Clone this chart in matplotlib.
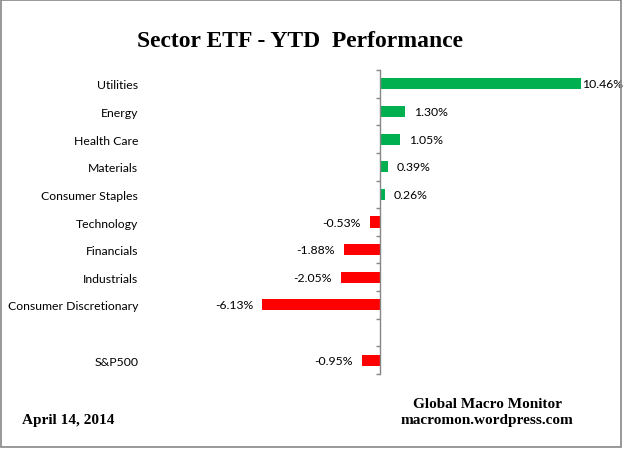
import matplotlib.pyplot as plt
from matplotlib.patches import Rectangle

sectors = ["Utilities", "Energy", "Health Care", "Materials", "Consumer Staples",
           "Technology", "Financials", "Industrials", "Consumer Discretionary", "", "S&P500"]
ytd = [10.46, 1.30, 1.05, 0.39, 0.26, -0.53, -1.88, -2.05, -6.13, None, -0.95]

green = "#00B050"
red = "#FF0000"
grey = "#868686"

fig = plt.figure(figsize=(6.26, 4.56), dpi=100)
ax = fig.add_axes([0.4077, 0.1776, 0.5674, 0.6667])

pos = [i for i, v in enumerate(ytd) if v is not None]
vals = [v for v in ytd if v is not None]
cols = [green if v >= 0 else red for v in vals]
ax.barh(pos, vals, height=0.4, color=cols)

ax.set_xlim(-6.5, 12)
ax.set_ylim(len(sectors) - 0.5, -0.5)

# value labels, outside end of each bar
for p, v in zip(pos, vals):
    if v == max(vals):
        ax.annotate(f"{v:.2f}%", (v, p), xytext=(1, 0), textcoords="offset points",
                    va="center", ha="left", fontsize=8.8, family="Lato")
    elif v >= 0:
        ax.annotate(f"{v:.2f}%", (v, p), xytext=(6.5, 0), textcoords="offset points",
                    va="center", ha="left", fontsize=8.8, family="Lato")
    else:
        ax.annotate(f"{v:.2f}%", (v, p), xytext=(-6.5, 0), textcoords="offset points",
                    va="center", ha="right", fontsize=8.8, family="Lato")

for s in ["top", "right", "bottom"]:
    ax.spines[s].set_visible(False)
ax.spines["left"].set_position(("data", 0))
ax.spines["left"].set_color(grey)
ax.spines["left"].set_linewidth(1)
ax.set_xticks([])

ax.set_yticks(range(len(sectors)))
ax.set_yticklabels(sectors, fontsize=8.8, family="Lato")
ax.tick_params(axis="y", which="major", length=0, pad=174)
ax.set_yticks([i - 0.5 for i in range(len(sectors) + 1)], minor=True)
ax.tick_params(axis="y", which="minor", length=3, color=grey, width=1)

fig.text(0.479, 0.908, "Sector ETF - YTD  Performance", ha="center", va="center",
         fontsize=17, fontweight="bold", family="Liberation Serif")
fig.text(0.035, 0.077, "April 14, 2014", ha="left", va="center",
         fontsize=11, fontweight="bold", family="Liberation Serif")
fig.text(0.778, 0.114, "Global Macro Monitor", ha="center", va="center",
         fontsize=11, fontweight="bold", family="Liberation Serif")
fig.text(0.778, 0.077, "macromon.wordpress.com", ha="center", va="center",
         fontsize=11, fontweight="bold", family="Liberation Serif")

fig.patches.append(Rectangle((0.001, 0.0175), 0.991, 0.981, transform=fig.transFigure,
                             fill=False, edgecolor=grey, linewidth=1.2))

fig.savefig("out.png", dpi=100)
